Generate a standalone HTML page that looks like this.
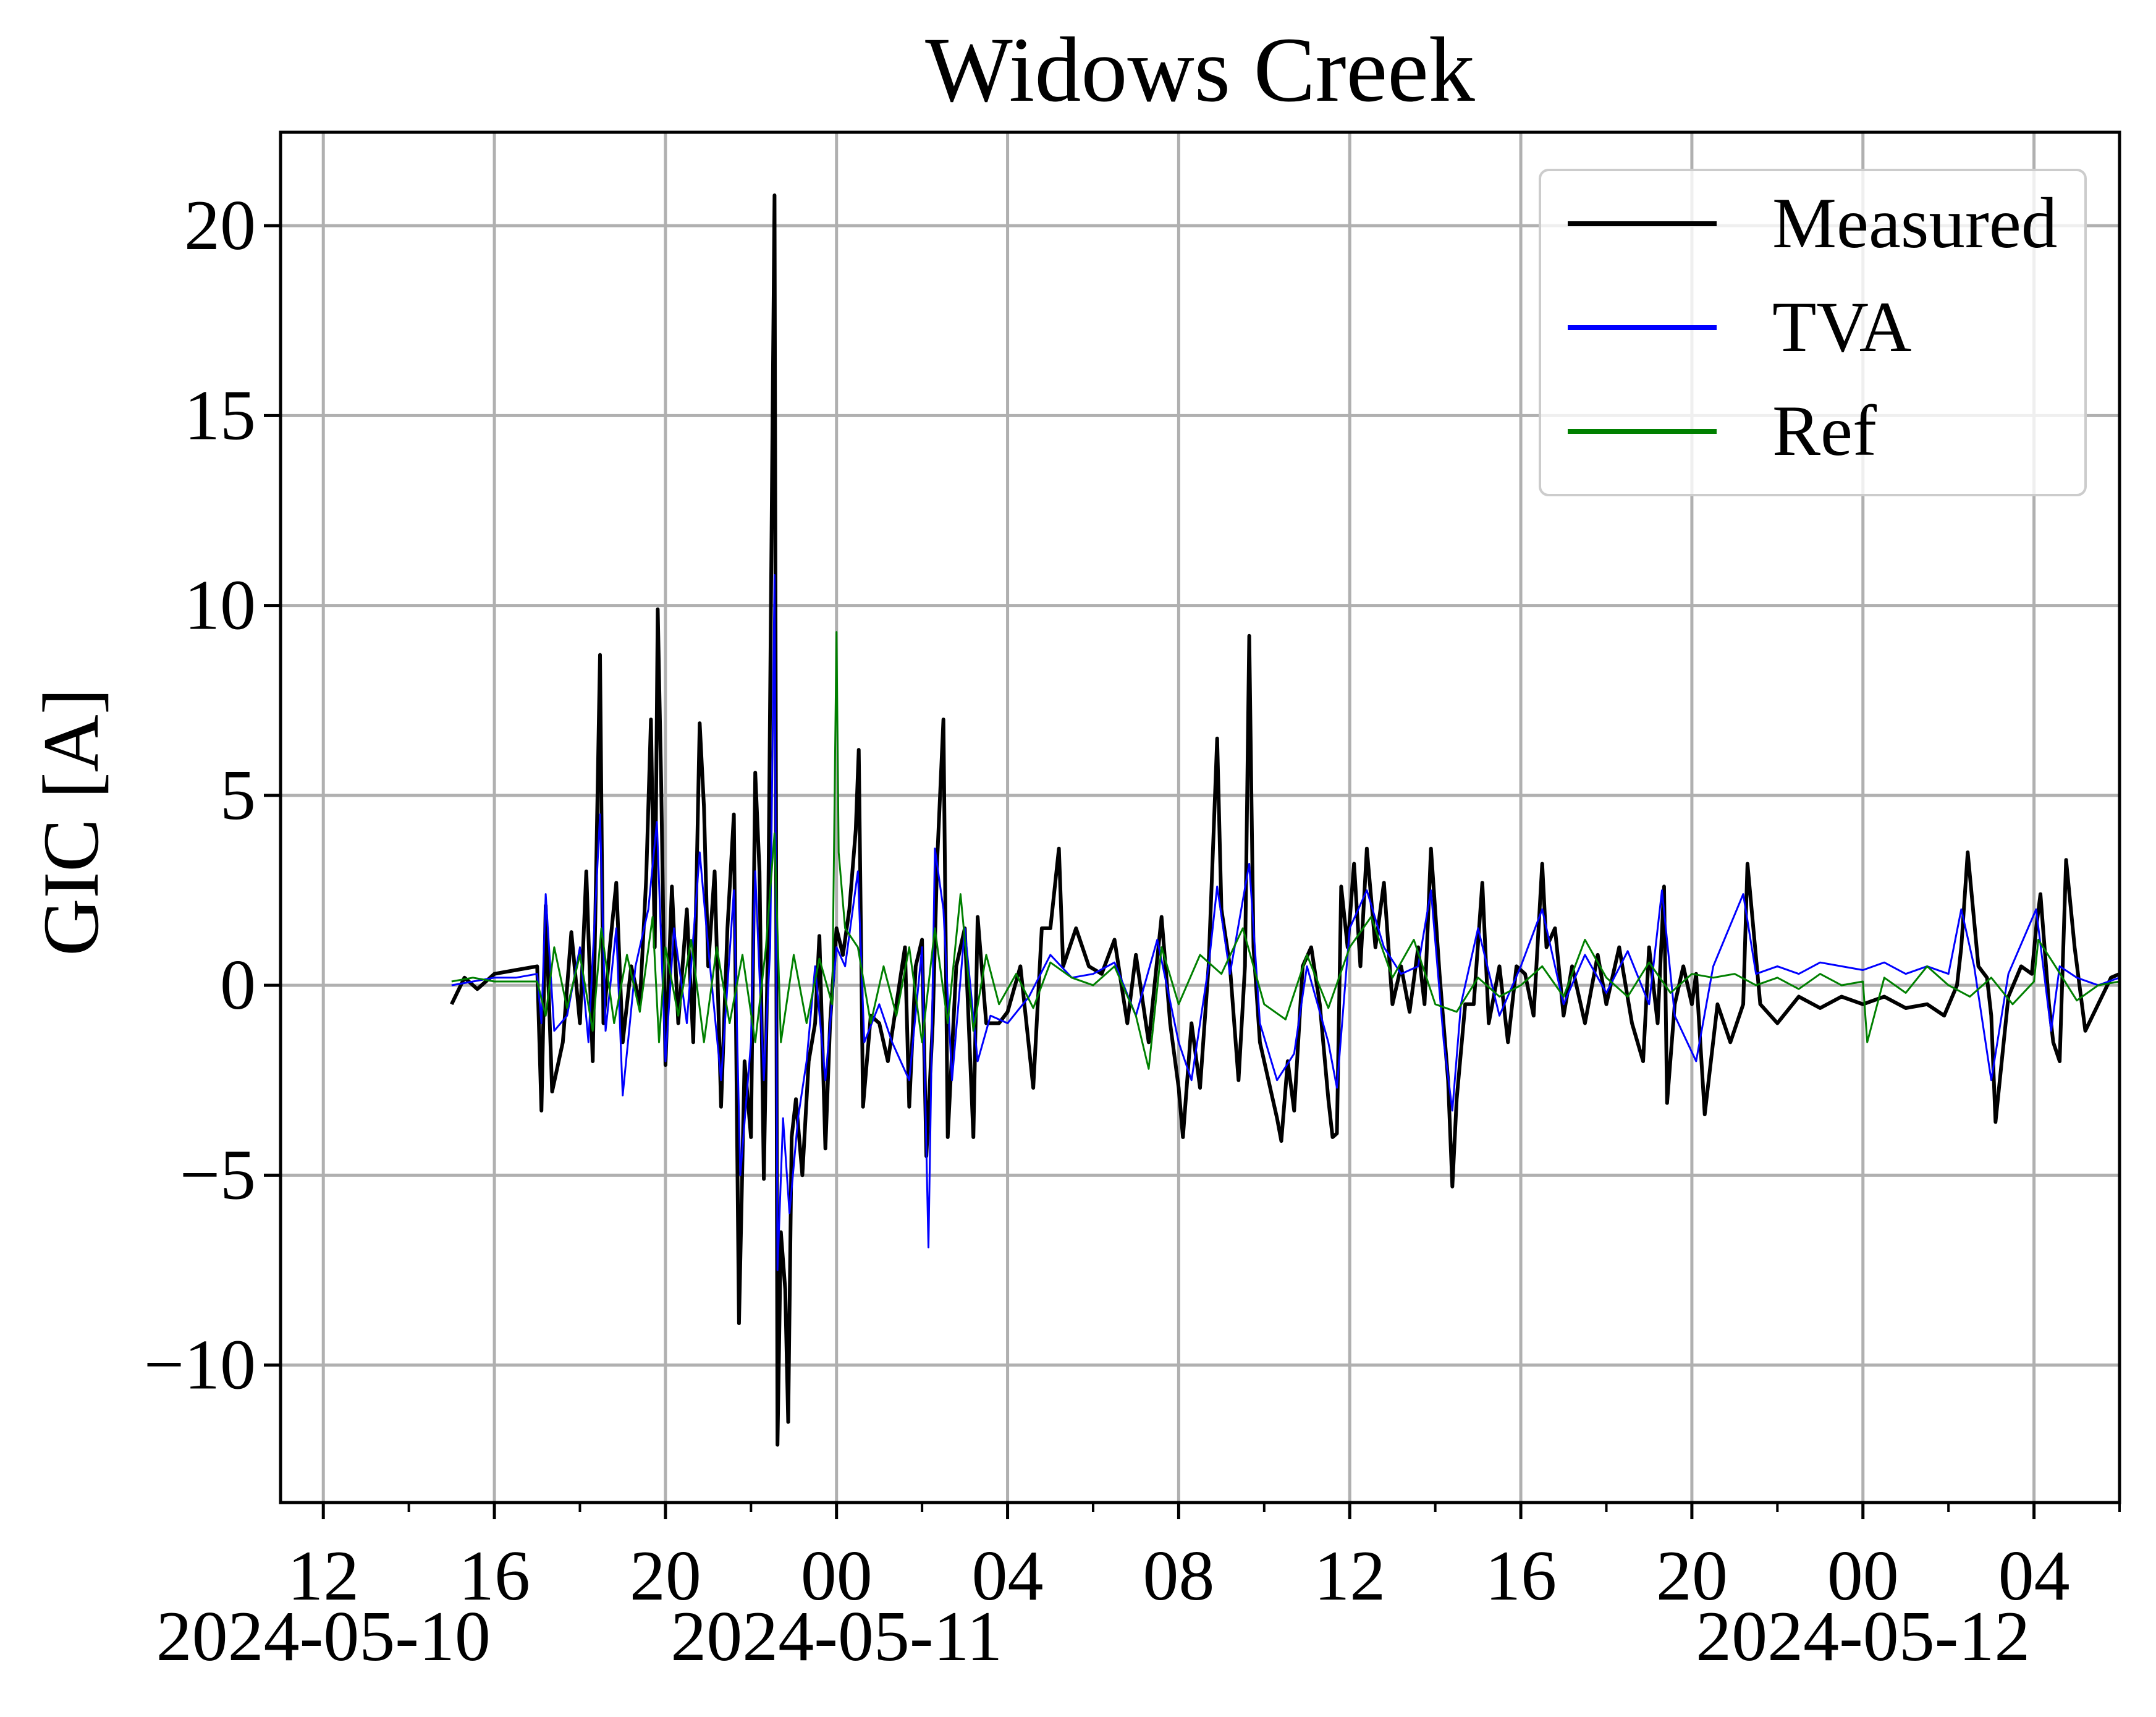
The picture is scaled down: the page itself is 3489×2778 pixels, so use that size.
<!DOCTYPE html>
<html><head><meta charset="utf-8"><style>
html,body{margin:0;padding:0;background:#fff}
svg{display:block}
text{font-family:"Liberation Serif",serif;fill:#000}
</style></head><body>
<svg id="chart" xmlns="http://www.w3.org/2000/svg" width="3489" height="2778" viewBox="0 0 3489 2778">
<rect width="3489" height="2778" fill="#fff"/>
<text x="1942" y="163" font-size="150" text-anchor="middle">Widows Creek</text>
<text x="0" y="0" font-size="129" text-anchor="middle" transform="translate(158,1330) rotate(-90)">GIC [A]</text>
<g id="grid"></g>
<g id="series"></g>
<g id="axes"></g>
<g id="legend" transform="translate(-13,0)">
<rect x="2505" y="275" width="883" height="526" rx="14" fill="#fff" fill-opacity="0.8" stroke="#ccc" stroke-width="4"/>
<g><line x1="2550" y1="362" x2="2791" y2="362" stroke="#000" stroke-width="8"/><text x="2881" y="400" font-size="117">Measured</text></g>
<g><line x1="2550" y1="530" x2="2791" y2="530" stroke="#0000ff" stroke-width="8"/><text x="2881" y="568" font-size="117">TVA</text></g>
<g><line x1="2550" y1="698" x2="2791" y2="698" stroke="#008000" stroke-width="8"/><text x="2881" y="736" font-size="117">Ref</text></g>
</g>
</svg>
<script>
// hours since 2024-05-10 00:00
const measuredT=[15.0,15.3,15.6,16.0,16.5,17.0,17.1,17.2,17.35,17.6,17.8,18.0,18.15,18.3,18.47,18.55,18.7,18.85,19.0,19.2,19.4,19.55,19.66,19.75,19.82,19.9,20.0,20.15,20.3,20.5,20.65,20.8,20.9,21.0,21.15,21.3,21.45,21.6,21.72,21.85,22.0,22.1,22.2,22.3,22.4,22.55,22.62,22.7,22.8,22.87,22.95,23.05,23.2,23.35,23.5,23.6,23.74,23.85,24.0,24.15,24.3,24.45,24.52,24.62,24.8,25.0,25.2,25.4,25.6,25.7,25.85,26.0,26.1,26.25,26.35,26.5,26.6,26.8,27.0,27.2,27.3,27.5,27.8,28.0,28.3,28.6,28.8,29.0,29.2,29.3,29.6,29.9,30.2,30.5,30.8,31.0,31.3,31.6,31.8,32.0,32.1,32.3,32.5,32.7,32.9,33.0,33.2,33.4,33.55,33.65,33.75,33.9,34.1,34.3,34.4,34.55,34.7,34.9,35.1,35.3,35.5,35.6,35.7,35.8,35.95,36.1,36.25,36.4,36.6,36.8,37.0,37.2,37.4,37.6,37.75,37.9,38.1,38.3,38.4,38.5,38.7,38.9,39.1,39.25,39.5,39.7,39.9,40.1,40.3,40.5,40.6,40.8,41.0,41.2,41.5,41.8,42.0,42.3,42.6,42.86,43.0,43.2,43.35,43.42,43.6,43.8,44.0,44.1,44.3,44.6,44.9,45.2,45.3,45.6,46.0,46.5,47.0,47.5,48.0,48.5,49.0,49.5,49.9,50.2,50.3,50.45,50.7,50.9,51.0,51.1,51.4,51.7,51.95,52.05,52.15,52.35,52.45,52.6,52.75,52.95,53.2,53.5,53.8,54.0];
const measuredV=[-0.5,0.2,-0.1,0.3,0.4,0.5,-3.3,2.1,-2.8,-1.5,1.4,-1.0,3.0,-2.0,8.7,-1.0,1.0,2.7,-1.5,0.5,-0.5,2.8,7.0,1.0,9.9,5.3,-2.1,2.6,-1.0,2.0,-1.5,6.9,4.7,0.5,3.0,-3.2,1.5,4.5,-8.9,-2.0,-4.0,5.6,3.0,-5.1,1.5,20.8,-12.1,-6.5,-8.0,-11.5,-4.0,-3.0,-5.0,-2.0,-1.0,1.3,-4.3,-1.0,1.5,0.8,2.0,4.1,6.2,-3.2,-0.8,-1.0,-2.0,-0.5,1.0,-3.2,0.5,1.2,-4.5,-1.0,3.2,7.0,-4.0,0.5,1.5,-4.0,1.8,-1.0,-1.0,-0.7,0.5,-2.7,1.5,1.5,3.6,0.5,1.5,0.5,0.3,1.2,-1.0,0.8,-1.5,1.8,-1.0,-2.7,-4.0,-1.0,-2.7,0.5,6.5,2.0,0.5,-2.5,0.5,9.2,1.0,-1.5,-2.5,-3.5,-4.1,-2.0,-3.3,0.5,1.0,-0.5,-3.0,-4.0,-3.9,2.6,1.0,3.2,0.5,3.6,1.0,2.7,-0.5,0.5,-0.7,1.0,-0.5,3.6,0.3,-2.5,-5.3,-3.0,-0.5,-0.5,2.7,-1.0,0.5,-1.5,0.5,0.3,-0.8,3.2,1.0,1.5,-0.8,0.5,-1.0,0.8,-0.5,1.0,-1.0,-2.0,1.0,-1.0,2.6,-3.1,-0.5,0.5,-0.5,0.3,-3.4,-0.5,-1.5,-0.5,3.2,-0.5,-1.0,-0.3,-0.6,-0.3,-0.5,-0.3,-0.6,-0.5,-0.8,0.0,1.0,3.5,0.5,0.2,-0.8,-3.6,-0.3,0.5,0.3,1.5,2.4,-0.5,-1.5,-2.0,3.3,1.0,-1.2,-0.5,0.2,0.3,0.5];
const tvaT=[15.0,15.5,16.0,16.5,17.0,17.1,17.2,17.4,17.7,18.0,18.2,18.47,18.6,18.85,19.0,19.3,19.6,19.8,20.0,20.2,20.5,20.8,21.0,21.3,21.6,21.75,22.0,22.1,22.3,22.45,22.55,22.62,22.75,22.9,23.1,23.3,23.5,23.74,24.0,24.2,24.5,24.65,25.0,25.3,25.7,26.0,26.15,26.3,26.5,26.7,27.0,27.3,27.6,28.0,28.5,29.0,29.5,30.0,30.5,31.0,31.5,32.0,32.3,32.7,32.9,33.2,33.65,33.9,34.3,34.7,35.0,35.5,35.7,36.0,36.4,36.8,37.2,37.6,37.9,38.2,38.4,38.6,39.0,39.5,40.0,40.5,41.0,41.5,42.0,42.5,43.0,43.3,43.6,44.1,44.5,45.2,45.5,46.0,46.5,47.0,47.5,48.0,48.5,49.0,49.5,50.0,50.3,50.6,51.0,51.4,52.05,52.4,52.6,53.0,53.5,54.0];
const tvaV=[0.0,0.1,0.2,0.2,0.3,-1.0,2.4,-1.2,-0.8,1.0,-1.5,4.5,-1.2,1.5,-2.9,0.5,2.0,4.3,-2.0,1.5,-1.0,3.5,1.0,-2.5,2.5,-5.0,-1.5,3.0,-2.5,1.0,10.8,-7.5,-3.5,-6.0,-3.5,-2.0,0.5,-2.5,1.0,0.5,3.0,-1.5,-0.5,-1.5,-2.5,1.0,-6.9,3.6,2.0,-2.5,1.5,-2.0,-0.8,-1.0,-0.3,0.8,0.2,0.3,0.6,-0.8,1.2,-1.5,-2.5,0.5,2.6,0.3,3.2,-1.0,-2.5,-1.8,0.5,-1.5,-2.7,1.5,2.5,1.0,0.3,0.5,2.5,-1.5,-3.3,-0.5,1.5,-0.8,0.5,2.0,-0.5,0.8,-0.2,0.9,-0.5,2.5,-0.8,-2.0,0.5,2.4,0.3,0.5,0.3,0.6,0.5,0.4,0.6,0.3,0.5,0.3,2.0,0.5,-2.5,0.3,2.0,-1.2,0.5,0.2,0.0,0.2];
const refT=[15.0,15.5,16.0,16.5,17.0,17.2,17.4,17.7,18.0,18.3,18.5,18.8,19.1,19.4,19.7,19.85,20.0,20.3,20.6,20.9,21.2,21.5,21.8,22.1,22.35,22.55,22.7,23.0,23.3,23.6,23.9,24.0,24.05,24.2,24.5,24.8,25.1,25.4,25.7,26.0,26.3,26.6,26.9,27.2,27.5,27.8,28.2,28.6,29.0,29.5,30.0,30.5,31.0,31.3,31.6,32.0,32.5,33.0,33.5,34.0,34.5,35.0,35.5,36.0,36.5,37.0,37.5,38.0,38.5,39.0,39.5,40.0,40.5,41.0,41.5,42.0,42.5,43.0,43.5,44.0,44.5,45.0,45.5,46.0,46.5,47.0,47.5,48.0,48.1,48.5,49.0,49.5,50.0,50.5,51.0,51.5,52.0,52.1,52.5,53.0,53.5,54.0];
const refV=[0.1,0.2,0.1,0.1,0.1,-0.8,1.0,-0.6,0.8,-1.2,1.5,-1.0,0.8,-0.7,1.8,-1.5,1.0,-0.8,1.2,-1.5,1.0,-1.0,0.8,-1.5,1.0,4.0,-1.5,0.8,-1.0,0.7,-0.5,9.3,3.5,1.5,1.0,-1.0,0.5,-0.8,1.0,-1.5,1.5,-1.0,2.4,-1.2,0.8,-0.5,0.3,-0.6,0.6,0.2,0.0,0.5,-0.8,-2.2,1.0,-0.5,0.8,0.3,1.5,-0.5,-0.9,0.8,-0.6,1.0,1.8,0.2,1.2,-0.5,-0.7,0.2,-0.3,0.0,0.5,-0.3,1.2,0.2,-0.3,0.6,-0.2,0.3,0.2,0.3,0.0,0.2,-0.1,0.3,0.0,0.1,-1.5,0.2,-0.2,0.5,0.0,-0.3,0.2,-0.5,0.1,1.2,0.5,-0.4,0.0,0.1];
const yTicks=[-10,-5,0,5,10,15,20];
const yTickLabels=["\u221210","\u22125","0","5","10","15","20"];
const xTicks=[12,16,20,24,28,32,36,40,44,48,52];
const xTickLabels=["12","16","20","00","04","08","12","16","20","00","04"];
const dateTicks=[12,24,48];
const dateLabels=["2024-05-10","2024-05-11","2024-05-12"];

const L=454,R=3430,T=214,B=2431,X0=11,X1=54,Y0=-13.62,Y1=22.46;
const sx=h=>L+(h-X0)/(X1-X0)*(R-L);
const sy=v=>B-(v-Y0)/(Y1-Y0)*(B-T);
const NS="http://www.w3.org/2000/svg";
function mk(tag,attrs,parent,txt){const e=document.createElementNS(NS,tag);for(const k in attrs)e.setAttribute(k,attrs[k]);if(txt!==undefined)e.textContent=txt;parent.appendChild(e);return e;}
const grid=document.getElementById('grid'),series=document.getElementById('series'),axes=document.getElementById('axes');
yTicks.forEach((v,i)=>{
  const g=mk('line',{x1:L,x2:R,y1:sy(v),y2:sy(v),stroke:'#b0b0b0','stroke-width':5},grid);
  
  
  mk('line',{x1:L-27,x2:L,y1:sy(v),y2:sy(v),stroke:'#000','stroke-width':5},axes);
  const t=mk('text',{x:L-40,y:sy(v)+38,'font-size':116,'text-anchor':'end'},axes,yTickLabels[i]);
  
  
});
xTicks.forEach((h,i)=>{
  const g=mk('line',{x1:sx(h),x2:sx(h),y1:T,y2:B,stroke:'#b0b0b0','stroke-width':5},grid);
  
  
  mk('line',{x1:sx(h),x2:sx(h),y1:B,y2:B+27,stroke:'#000','stroke-width':5},axes);
  const t=mk('text',{x:sx(h),y:2588,'font-size':116,'text-anchor':'middle'},axes,xTickLabels[i]);
  
  
  if(h+2<=X1)mk('line',{x1:sx(h+2),x2:sx(h+2),y1:B,y2:B+15,stroke:'#000','stroke-width':4},axes);
});
dateTicks.forEach((h,i)=>{
  const t=mk('text',{x:sx(h),y:2686,'font-size':116,'text-anchor':'middle'},axes,dateLabels[i]);
  
  
});
function line(T_,V_,color,w,name){
  const d=T_.map((t,i)=>(i?'L':'M')+sx(t).toFixed(1)+' '+sy(V_[i]).toFixed(1)).join(' ');
  const p=mk('path',{d:d,fill:'none',stroke:color,'stroke-width':w,'stroke-linejoin':'round'},series);
  
  
}
line(measuredT,measuredV,'#000',6,'measured-line');
line(tvaT,tvaV,'#0000ff',3,'tva-line');
line(refT,refV,'#008000',3,'ref-line');
const fr=mk('rect',{x:L,y:T,width:R-L,height:B-T,fill:'none',stroke:'#000','stroke-width':5},axes);


</script>
</body></html>
